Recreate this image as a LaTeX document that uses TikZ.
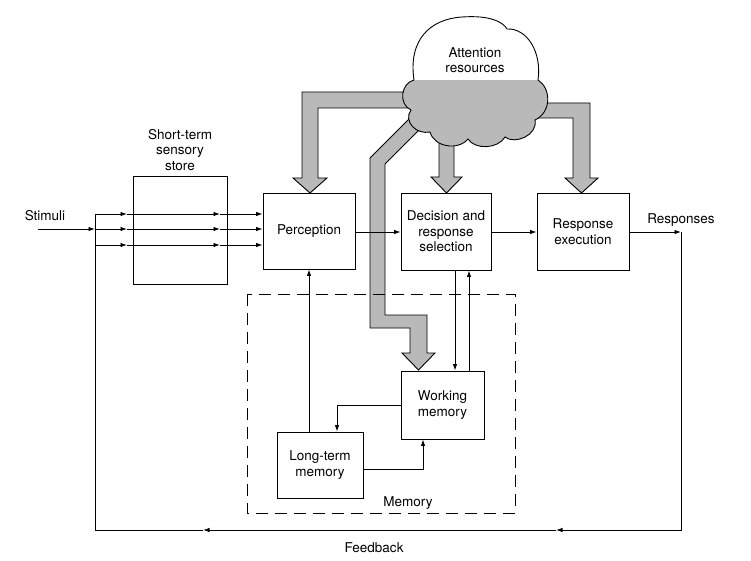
\documentclass[tikz,border=0pt]{standalone}
\usepackage{fontspec}
\setmainfont{TeX Gyre Heros}
\usetikzlibrary{arrows.meta}
\colorlet{stipple}{gray!55}
\newcommand\lbl{\fontsize{13.5}{15.5}\selectfont}
\newcommand\CloudPath{%
    (414,80) .. controls (408,40) and (430,19) .. (462,17)
    .. controls (490,15) and (503,22) .. (507,29)
    .. controls (527,28) and (542,52) .. (538,80)
    .. controls (551,88) and (552,112) .. (535,120)
    .. controls (538,135) and (515,145) .. (505,137)
    .. controls (498,149) and (475,150) .. (468,139)
    .. controls (458,151) and (434,147) .. (430,132)
    .. controls (416,135) and (403,121) .. (411,110)
    .. controls (398,104) and (401,83) .. (414,80) -- cycle}
\tikzset{
    box/.style={draw, line width=0.9pt, inner sep=0pt, align=center, font=\lbl},
    txt/.style={align=center, font=\lbl, inner sep=1pt},
    flow/.style={-{Latex[length=6.5pt,width=4.5pt]}, line width=0.9pt},
    line/.style={line width=0.9pt},
    fat/.style={fill=stipple, draw=black, line width=0.9pt, line join=miter},
}

\begin{document}
\begin{tikzpicture}[x=1pt,y=-1pt]
    \useasboundingbox (0,0) rectangle (751,561);

    % attention flows, drawn first so the cloud hides their tails
    \filldraw[fat] (425,92) -- (302,92) -- (302,178) -- (293,178) -- (310,193)
        -- (327,178) -- (318,178) -- (318,108) -- (425,108);
    \filldraw[fat] (439,120) -- (439,177) -- (431,177) -- (446.5,193)
        -- (462,177) -- (454,177) -- (454,120);
    \filldraw[fat] (520,103) -- (590,103) -- (590,178) -- (598,178) -- (581.5,193)
        -- (565,178) -- (573,178) -- (573,118) -- (520,118);
    \filldraw[fat] (415,113) -- (370,158) -- (370,328) -- (410,328) -- (410,353)
        -- (402,353) -- (418.5,370) -- (435,353) -- (427,353) -- (427,315)
        -- (385,315) -- (385,164) -- (427,122);

    % cloud
    \begin{scope}
        \clip \CloudPath;
        \fill[white] (390,0) rectangle (560,160);
        \fill[stipple] (390,80) rectangle (560,160);
    \end{scope}
    \draw[line] \CloudPath;
    \node[txt] (att) at (475,60) {Attention\\resources};

    % stages
    \node[box, minimum width=94pt, minimum height=108pt] (stss) at (180,230) {};
    \node[txt] (stsslbl) at (180,150) {Short-term\\sensory\\store};
    \node[box, minimum width=92pt, minimum height=76pt] (perc) at (309,231) {Perception};
    \node[box, minimum width=90pt, minimum height=77pt] (dec) at (446,231.5) {Decision and\\response\\selection};
    \node[box, minimum width=92pt, minimum height=77pt] (resp) at (583,231.5) {Response\\execution};
    \node[box, minimum width=83pt, minimum height=68pt] (wm) at (442.5,405) {Working\\memory};
    \node[box, minimum width=86pt, minimum height=66pt] (ltm) at (320,465) {Long-term\\memory};

    % memory
    \draw[line, dash pattern=on 12pt off 7pt] (247,294) rectangle (515,513);
    \node[txt] (mem) at (408,503) {Memory};

    % stimuli
    \node[txt] (stim) at (45,216) {Stimuli};
    \coordinate (stimIn) at (38,229);
    \coordinate (busTop) at (95,214);
    \coordinate (fbL) at (95,530);
    \draw[flow] (stimIn) -- (stimIn -| busTop);
    \foreach \y [count=\i] in {214,229,245} {
        \coordinate (bus\i) at (95,\y);
        \coordinate (mida\i) at (127,\y);
        \coordinate (midb\i) at (220,\y);
        \draw[flow] (bus\i) -- (mida\i);
        \draw[flow] (mida\i) -- (midb\i);
        \draw[flow] (midb\i) -- (bus\i -| perc.west);
    }

    % main chain
    \draw[flow] (perc.east |- 0,232) -- (dec.west |- 0,232);
    \draw[flow] (dec.east |- 0,232) -- (resp.west |- 0,232);
    \coordinate (respOut) at (681,232);
    \node[txt] (responses) at (681,220) {Responses};
    \draw[flow] (resp.east |- respOut) -- (respOut);

    % feedback
    \coordinate (fbA) at (556,530);
    \coordinate (fbB) at (203,530);
    \draw[flow] (respOut) |- (fbA);
    \draw[flow] (fbA) -- (fbB);
    \draw[line] (fbB) -- (fbL) -- (busTop);
    \node[txt] (fb) at (374,548) {Feedback};

    % memory links
    \draw[flow] (ltm.north -| perc.south) -- (perc.south);
    \draw[flow] (wm.west) -| ([xshift=17pt]ltm.north);
    \draw[flow] ([yshift=-4pt]ltm.east) -| ([xshift=-19.5pt]wm.south);
    \draw[flow] ([xshift=9pt]dec.south) -- ([xshift=9pt]dec.south |- wm.north);
    \draw[flow] ([xshift=23pt]dec.south |- wm.north) -- ([xshift=23pt]dec.south);
\end{tikzpicture}
\end{document}
